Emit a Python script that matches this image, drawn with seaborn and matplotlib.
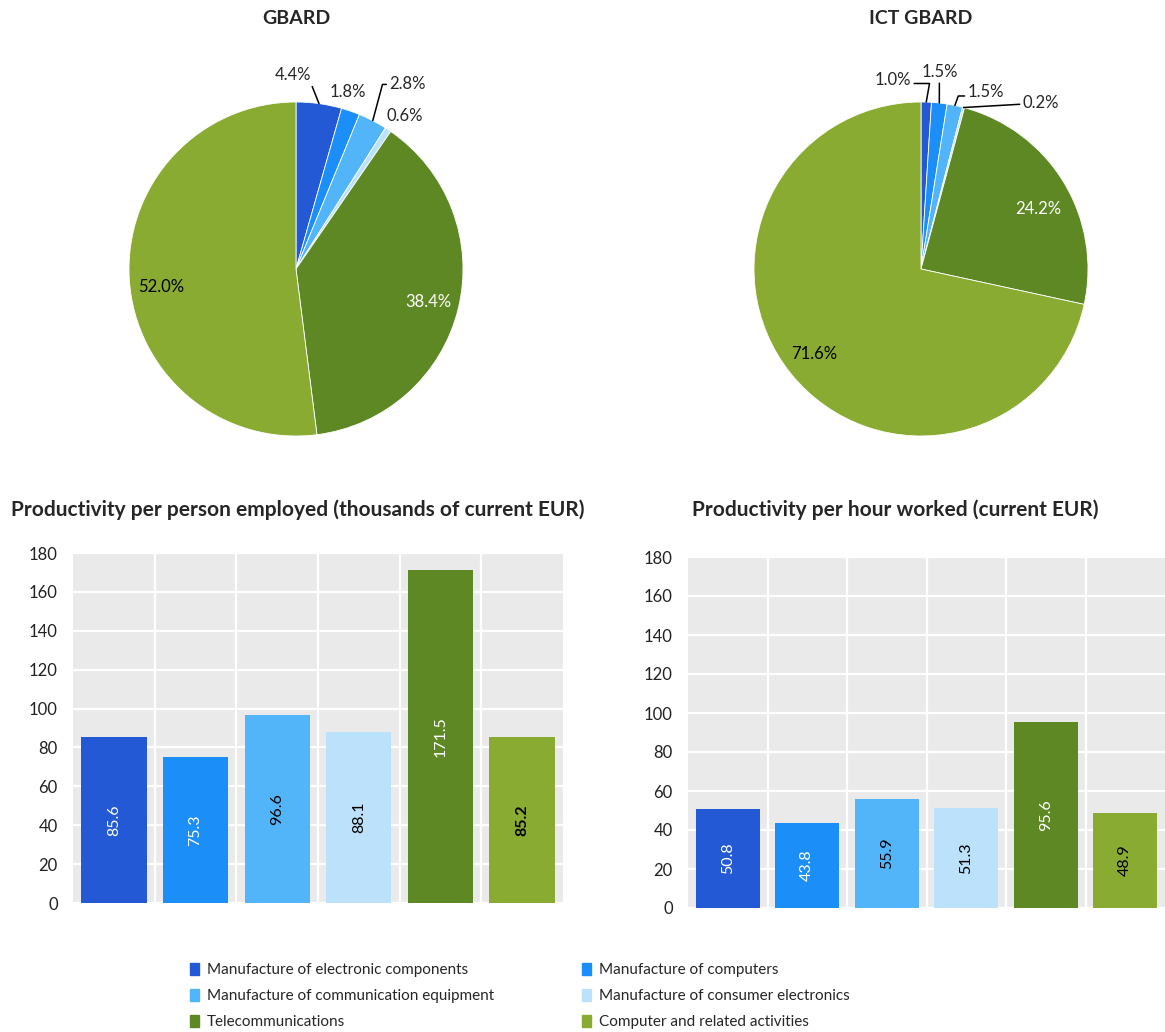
import numpy as np
import pandas as pd
import matplotlib
matplotlib.use("Agg")
import matplotlib.pyplot as plt
import matplotlib.patches as mpatches
import seaborn as sns

# ---- data ----
categories = [
    "Manufacture of electronic components",
    "Manufacture of computers",
    "Manufacture of communication equipment",
    "Manufacture of consumer electronics",
    "Telecommunications",
    "Computer and related activities",
]
gbard_share = [4.4, 1.8, 2.8, 0.6, 38.4, 52.0]
ict_gbard_share = [1.0, 1.5, 1.5, 0.2, 24.2, 71.6]
prod_person = [85.6, 75.3, 96.6, 88.1, 171.5, 85.2]
prod_hour = [50.8, 43.8, 55.9, 51.3, 95.6, 48.9]

colors = ["#2359D4", "#1B8EF7", "#52B5FA", "#BBE2FA", "#5D8824", "#8AAB31"]

sns.set_style("white")
plt.rcParams["font.family"] = ["Lato", "DejaVu Sans"]

W, H = 1165, 1032
fig = plt.figure(figsize=(W / 100, H / 100), dpi=100)


def px_axes(left, top, width, height):
    # axes from pixel box (top-left origin)
    return fig.add_axes([left / W, 1 - (top + height) / H, width / W, height / H])


R_PX = 167
SPAN = 1.4


def draw_pie(cx, cy, values, title, label_pos, label_style, inside_colors):
    ax = px_axes(cx - SPAN * R_PX, cy - SPAN * R_PX, 2 * SPAN * R_PX, 2 * SPAN * R_PX)
    wedges, _ = ax.pie(values, colors=colors, startangle=90, counterclock=False,
                       radius=1, wedgeprops=dict(edgecolor="white", linewidth=0.6))
    ax.set_xlim(-SPAN, SPAN)
    ax.set_ylim(-SPAN, SPAN)
    ax.set_aspect("equal")
    ax.axis("off")
    for i, (w, v) in enumerate(zip(wedges, values)):
        mid = np.deg2rad((w.theta1 + w.theta2) / 2)
        anchor = (np.cos(mid), np.sin(mid))
        tx, ty = label_pos[i]
        style = label_style[i]
        txt = f"{v:.1f}%"
        if style is None:
            ax.text(tx, ty, txt, ha="center", va="center", fontsize=12,
                    color=inside_colors.get(i, "black"))
        elif style == "none":
            ax.text(tx, ty, txt, ha="center", va="center", fontsize=12)
        else:
            conn, rel = style
            ax.annotate(txt, xy=anchor, xytext=(tx, ty), ha="center", va="center",
                        fontsize=12,
                        arrowprops=dict(arrowstyle="-", color="black", lw=1.1,
                                        connectionstyle=conn, relpos=rel,
                                        shrinkA=0, shrinkB=0))
    fig.text(cx / W, 1 - 18 / H, title, ha="center", va="center",
             fontsize=14, fontweight="bold")
    return ax


# label placement (pie radius units)
gbard_pos = [(-0.02, 1.16), (0.31, 1.06), (0.67, 1.11), (0.65, 0.915), (0.79, -0.20), (-0.81, -0.11)]
gbard_style = [("arc3", (1.0, 0.0)), "none", ("angle,angleA=0,angleB=75,rad=0", (0.0, 0.45)),
               "none", None, None]
draw_pie(296, 269, gbard_share, "GBARD", gbard_pos, gbard_style, {4: "white"})

ict_pos = [(-0.17, 1.13), (0.11, 1.18), (0.39, 1.06), (0.72, 0.997), (0.70, 0.36), (-0.64, -0.51)]
ict_style = [("angle,angleA=0,angleB=80,rad=0", (1.0, 0.3)), ("arc3", (0.5, 0.0)),
             ("angle,angleA=0,angleB=70,rad=0", (0.0, 0.25)),
             ("arc3", (0.0, 0.4)), None, None]
draw_pie(921, 269, ict_gbard_share, "ICT GBARD", ict_pos, ict_style, {4: "white"})


def draw_bars(ax, values, title, title_x, label_colors, label_weights):
    df = pd.DataFrame({"Category": categories, "Value": values})
    sns.barplot(data=df, x="Category", y="Value", hue="Category", palette=colors,
                dodge=False, legend=False, width=0.8, saturation=1, linewidth=0, ax=ax)
    ax.set_facecolor("#EAEAEA")
    ax.set_ylim(0, 180)
    ax.set_xlim(-0.5, len(categories) - 0.5)
    ax.set_yticks(range(0, 181, 20))
    ax.set_xticks(np.arange(0.5, len(categories) - 0.5, 1))
    ax.set_xticklabels([])
    ax.grid(True, axis="both", color="white", linewidth=1.6)
    ax.set_axisbelow(True)
    ax.tick_params(axis="both", length=0, labelsize=12, colors="#222222")
    ax.tick_params(axis="y", pad=11)
    ax.set_xlabel("")
    ax.set_ylabel("")
    for s in ax.spines.values():
        s.set_visible(False)
    for i, cont in enumerate(ax.containers):
        ax.bar_label(cont, labels=[f"{values[i]:.1f}"], label_type="center",
                     rotation=90, fontsize=11.5, color=label_colors[i],
                     fontweight=label_weights[i])
    fig.text(title_x / W, 1 - 510 / H, title, ha="center", va="center",
             fontsize=15, fontweight="bold")


ax1 = px_axes(73, 553, 490, 350)
draw_bars(ax1, prod_person, "Productivity per person employed (thousands of current EUR)", 298,
          ["white", "white", "black", "black", "white", "black"],
          ["normal"] * 5 + ["bold"])

ax2 = px_axes(688, 557, 477, 351)
draw_bars(ax2, prod_hour, "Productivity per hour worked (current EUR)", 895,
          ["white", "white", "black", "black", "white", "black"],
          ["normal"] * 6)

# legend is filled row by row in the reference
handles = [mpatches.Patch(color=c, label=l) for c, l in zip(colors, categories)]
order = [0, 2, 4, 1, 3, 5]
fig.legend(handles=[handles[k] for k in order], ncol=2, loc="upper left",
           bbox_to_anchor=(176 / W, 1 - 949 / H), frameon=False, fontsize=11,
           handlelength=0.6, handleheight=0.9, handletextpad=0.5,
           columnspacing=5.8, labelspacing=0.74)

fig.savefig("out.png", dpi=100)
